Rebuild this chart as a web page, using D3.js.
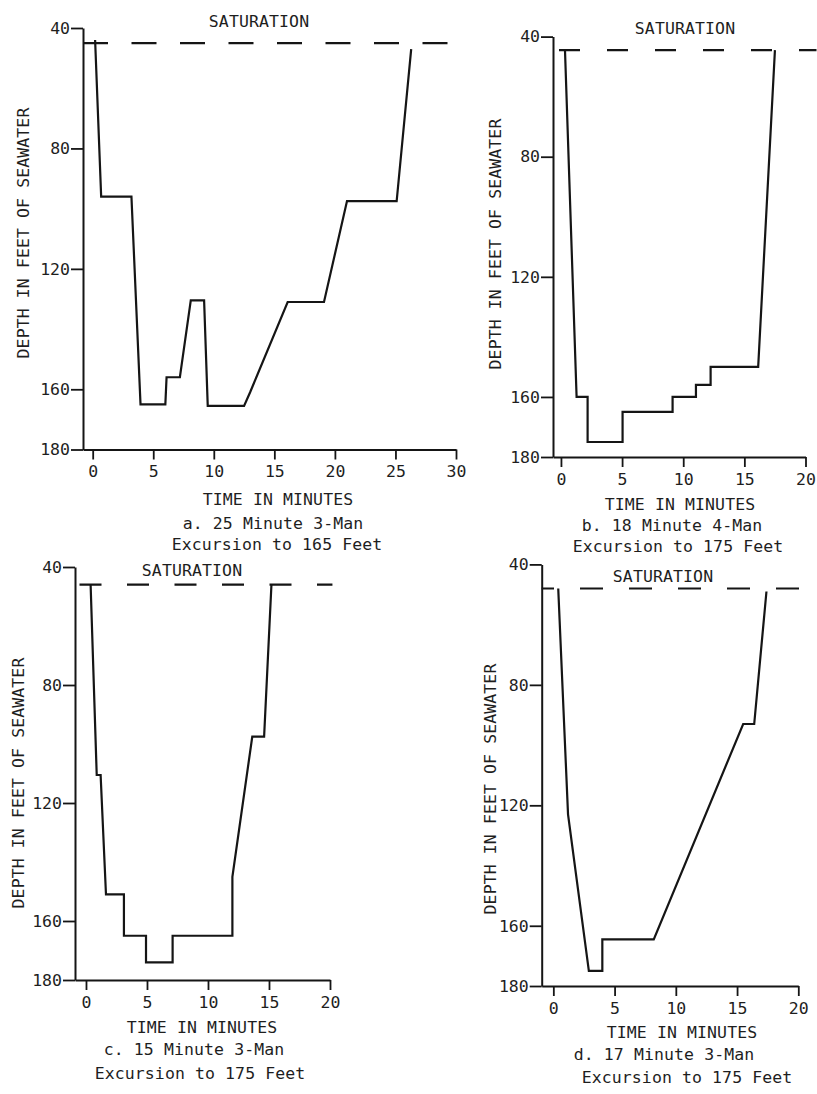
<!DOCTYPE html>
<html>
<head>
<meta charset="utf-8">
<script src="https://cdn.jsdelivr.net/npm/d3@7"></script>
<style>
  html, body { margin: 0; padding: 0; background: #fff; }
  svg { display: block; }
  text { font-family: "DejaVu Sans Mono", "Liberation Mono", monospace; fill: #1e1e1e; }
</style>
</head>
<body>
<script>
// ---------------- DATA ----------------
const yTicks = [40, 80, 120, 160, 180];
const xTicksA = [0, 5, 10, 15, 20, 25, 30];
const xTicksBCD = [0, 5, 10, 15, 20];

const saturationDepth = [45, 44.5, 46, 48];
const saturationLabel = "SATURATION";
const yAxisLabel = "DEPTH IN FEET OF SEAWATER";
const xAxisLabel = "TIME IN MINUTES";

// a. 25 Minute 3-Man Excursion to 165 Feet
const timeA  = [0.2, 0.7, 3.2, 3.95, 6.0, 6.1, 7.2, 8.1, 9.2, 9.5, 12.5, 13.0, 16.1, 19.1, 21.0, 25.1, 26.3];
const depthA = [44, 96, 96, 165, 165, 156, 156, 130.5, 130.5, 165.5, 165.5, 161, 131, 131, 97.5, 97.5, 47];

// b. 18 Minute 4-Man Excursion to 175 Feet
const timeB  = [0.33, 1.28, 2.18, 2.18, 5.04, 5.04, 9.13, 9.13, 11.04, 11.04, 12.24, 12.24, 16.13, 17.5];
const depthB = [44.5, 160, 160, 175, 175, 165, 165, 160, 160, 156, 156, 150, 150, 44.5];

// c. 15 Minute 3-Man Excursion to 175 Feet
const timeC  = [0.38, 0.88, 1.2, 1.64, 3.11, 3.11, 4.92, 4.92, 7.1, 7.1, 12.0, 12.0, 13.63, 14.6, 15.2];
const depthC = [46, 110.5, 110.5, 151, 151, 165, 165, 174, 174, 165, 165, 145, 97.5, 97.5, 46];

// d. 17 Minute 3-Man Excursion to 175 Feet
const timeD  = [0.4, 1.2, 2.9, 4.0, 4.0, 8.2, 15.5, 16.4, 17.4];
const depthD = [48, 123, 175, 175, 164.5, 164.5, 93, 93, 49];

const captionsLine1 = ["a. 25 Minute 3-Man", "b. 18 Minute 4-Man", "c. 15 Minute 3-Man", "d. 17 Minute 3-Man"];
const captionsLine2 = ["Excursion to 165 Feet", "Excursion to 175 Feet", "Excursion to 175 Feet", "Excursion to 175 Feet"];
const saturationEnd = [29.4, 20.9, 20.2, 20.3];

// ---------------- LAYOUT ----------------
const layouts = [
  {x0: 83, x1: 456, xDom: [-0.8, 30], y0: 28, y1: 449.5, dash: "25,23.5", dashOff: 0,
   satLabel: [259, 27], yLab: [23, 233], xLab: [278, 505], cap1: [273, 529], cap2: [277, 550]},
  {x0: 553, x1: 805.5, xDom: [-0.65, 20], y0: 36.6, y1: 457, dash: "21,27", dashOff: 42,
   satLabel: [685, 34], yLab: [495, 244], xLab: [680, 510], cap1: [672, 531], cap2: [678, 552]},
  {x0: 75, x1: 330, xDom: [-0.9, 20], y0: 567, y1: 980, dash: "22,25.5", dashOff: 43,
   satLabel: [192, 576], yLab: [18, 783], xLab: [202, 1033], cap1: [194, 1055], cap2: [200, 1079]},
  {x0: 541.7, x1: 798.3, xDom: [-0.95, 20], y0: 564.4, y1: 986, dash: "23,26", dashOff: 10.7,
   satLabel: [663, 582], yLab: [490, 789], xLab: [682, 1038], cap1: [664, 1060], cap2: [687, 1083]}
];

const series = [
  {time: timeA, depth: depthA, xTicks: xTicksA},
  {time: timeB, depth: depthB, xTicks: xTicksBCD},
  {time: timeC, depth: depthC, xTicks: xTicksBCD},
  {time: timeD, depth: depthD, xTicks: xTicksBCD}
];

const W = 817, H = 1094;
const ink = "#151515";
const svg = d3.select("body").append("svg").attr("width", W).attr("height", H);
svg.append("rect").attr("width", W).attr("height", H).attr("fill", "#fff");

series.forEach((s, i) => {
  const L = layouts[i];
  const x = d3.scaleLinear().domain(L.xDom).range([L.x0, L.x1]);
  const y = d3.scaleLinear().domain([40, 180]).range([L.y0, L.y1]);
  const g = svg.append("g");

  // Y axis
  const yAx = g.append("g").attr("transform", `translate(${L.x0},0)`)
    .call(d3.axisLeft(y).tickValues(yTicks).tickSize(12).tickSizeOuter(0).tickPadding(1).tickFormat(d3.format("d")));
  // X axis
  const xAx = g.append("g").attr("transform", `translate(0,${L.y1})`)
    .call(d3.axisBottom(x).tickValues(s.xTicks).tickSize(10).tickSizeOuter(0).tickPadding(6).tickFormat(d3.format("d")));
  [yAx, xAx].forEach(ax => {
    ax.select(".domain").attr("stroke", ink).attr("stroke-width", 2);
    ax.selectAll(".tick line").attr("stroke", ink).attr("stroke-width", 1.8);
    ax.selectAll(".tick text").style("font-size", "16.5px").attr("fill", "#2a2a2a");
  });

  // Saturation dashed line
  g.append("path")
    .attr("d", d3.line()([[x(L.xDom[0]), y(saturationDepth[i])], [x(saturationEnd[i]), y(saturationDepth[i])]]))
    .attr("stroke", ink).attr("stroke-width", 2.2).attr("fill", "none")
    .attr("stroke-dasharray", L.dash).attr("stroke-dashoffset", L.dashOff);

  // Profile
  const pts = s.time.map((t, k) => [t, s.depth[k]]);
  g.append("path")
    .datum(pts)
    .attr("d", d3.line().x(d => x(d[0])).y(d => y(d[1])))
    .attr("stroke", ink).attr("stroke-width", 2.2).attr("fill", "none")
    .attr("stroke-linejoin", "miter");

  // Texts
  const fs = "16.5px";
  g.append("text").attr("x", L.satLabel[0]).attr("y", L.satLabel[1])
    .attr("text-anchor", "middle").style("font-size", fs).style("letter-spacing", "0.1px")
    .text(saturationLabel);
  g.append("text").attr("transform", `translate(${L.yLab[0]},${L.yLab[1]}) rotate(-90)`)
    .attr("text-anchor", "middle").attr("dy", "0.35em").style("font-size", fs).style("letter-spacing", "0.1px")
    .text(yAxisLabel);
  g.append("text").attr("x", L.xLab[0]).attr("y", L.xLab[1])
    .attr("text-anchor", "middle").style("font-size", fs).style("letter-spacing", "0.1px")
    .text(xAxisLabel);
  g.append("text").attr("x", L.cap1[0]).attr("y", L.cap1[1])
    .attr("text-anchor", "middle").style("font-size", fs).style("letter-spacing", "0.1px")
    .text(captionsLine1[i]);
  g.append("text").attr("x", L.cap2[0]).attr("y", L.cap2[1])
    .attr("text-anchor", "middle").style("font-size", fs).style("letter-spacing", "0.1px")
    .text(captionsLine2[i]);
});
</script>
</body>
</html>
